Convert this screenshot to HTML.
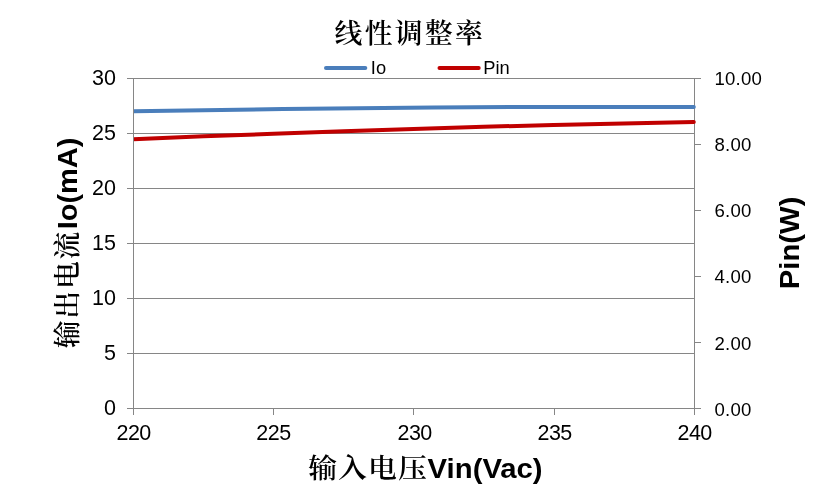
<!DOCTYPE html>
<html lang="zh">
<head>
<meta charset="utf-8">
<title>线性调整率</title>
<style>
html,body{margin:0;padding:0;background:#fff;}
body{width:825px;height:498px;overflow:hidden;}
svg{display:block;}
.cjk{font-family:"Liberation Sans","Noto Serif CJK SC",serif;letter-spacing:2.3px;font-weight:600;}
.lat{font-family:"Liberation Sans","Noto Sans CJK SC",sans-serif;}
.ttl{font-size:29.33px;fill:#000;}
.b{font-weight:bold;}
.lt{font-size:29.3px;}
.cjk{font-size:27.8px;}
.ax{font-size:21.5px;fill:#000;}
.ax2{font-size:18.6px;fill:#000;letter-spacing:0.25px;}
.lg{font-size:18.3px;fill:#000;}
</style>
</head>
<body>
<svg width="825" height="498" viewBox="0 0 825 498">
<rect width="825" height="498" fill="#fff"/>
<!-- gridlines -->
<g stroke="#868686" stroke-width="1" fill="none" shape-rendering="crispEdges">
<path d="M133 78.5H695M133 133.5H695M133 188.5H695M133 243.5H695M133 298.5H695M133 353.5H695"/>
<!-- right axis -->
<path d="M694.5 78V409"/>
<path d="M694 78.5H701M694 144.5H701M694 210.5H701M694 276.5H701M694 342.5H701M694 408.5H701"/>
</g>
<!-- series -->
<clipPath id="pc"><rect x="133" y="70" width="570" height="345"/></clipPath>
<g clip-path="url(#pc)" fill="none" stroke-width="4" stroke-linecap="round" stroke-linejoin="round">
<polyline points="130,111.35 133.5,111.3 283,109.0 433,107.55 520,107.0 693.8,107.0" stroke="#4a7ebb"/>
<polyline points="130,139.35 133.5,139.2 203.5,136.3 273.5,133.8 343.5,131.2 413.5,128.9 483.5,126.8 553.5,125.0 623.5,123.4 693.8,122.0" stroke="#c00000"/>
</g>
<!-- left and bottom axes -->
<g stroke="#868686" stroke-width="1" fill="none" shape-rendering="crispEdges">
<path d="M133.5 78V415"/>
<path d="M133 408.5H695"/>
<path d="M127 78.5H134M127 133.5H134M127 188.5H134M127 243.5H134M127 298.5H134M127 353.5H134M127 408.5H134"/>
<path d="M273.5 408V415M413.5 408V415M554.5 408V415M694.5 408V415"/>
</g>
<!-- legend -->
<line x1="326" y1="67.9" x2="365.3" y2="67.9" stroke="#4a7ebb" stroke-width="4" stroke-linecap="round"/>
<text class="lat lg" x="370.8" y="73.7">Io</text>
<line x1="439.5" y1="67.9" x2="478.7" y2="67.9" stroke="#c00000" stroke-width="4" stroke-linecap="round"/>
<text class="lat lg" x="483.2" y="73.7">Pin</text>
<!-- title -->
<text class="cjk ttl" x="334.6" y="43.2">线性调整率</text>
<!-- left axis labels -->
<g class="lat ax" text-anchor="end">
<text x="116" y="84.8">30</text>
<text x="116" y="139.9">25</text>
<text x="116" y="195.0">20</text>
<text x="116" y="250.1">15</text>
<text x="116" y="305.2">10</text>
<text x="116" y="360.3">5</text>
<text x="116" y="415.4">0</text>
</g>
<!-- right axis labels -->
<g class="lat ax2">
<text x="714.4" y="85">10.00</text>
<text x="714.4" y="151.1">8.00</text>
<text x="714.4" y="217.2">6.00</text>
<text x="714.4" y="283.4">4.00</text>
<text x="714.4" y="349.5">2.00</text>
<text x="714.4" y="415.6">0.00</text>
</g>
<!-- bottom axis labels -->
<g class="lat ax" text-anchor="middle" style="letter-spacing:-0.5px">
<text x="133.65" y="439.6">220</text>
<text x="273.5" y="439.6">225</text>
<text x="414.65" y="439.6">230</text>
<text x="554.65" y="439.6">235</text>
<text x="694.65" y="439.6">240</text>
</g>
<!-- bottom axis title -->
<text class="ttl cjk" style="letter-spacing:0.95px" transform="translate(308.2,477.8) scale(1.04,1)">输入电压</text>
<text class="ttl lat b lt" transform="translate(427.6,477.8) scale(1,0.96)">Vin(Vac)</text>
<!-- left axis title -->
<text class="ttl cjk" style="letter-spacing:1.8px" transform="translate(76.6,348.3) rotate(-90)">输出电流</text>
<text class="ttl lat b lt" style="font-size:29px" transform="translate(76.6,229.3) rotate(-90) scale(1,0.96)">Io(mA)</text>
<!-- right axis title -->
<text class="ttl lat b lt" transform="translate(799.2,289.2) rotate(-90) scale(1,0.96)">Pin(W)</text>
</svg>
</body>
</html>
